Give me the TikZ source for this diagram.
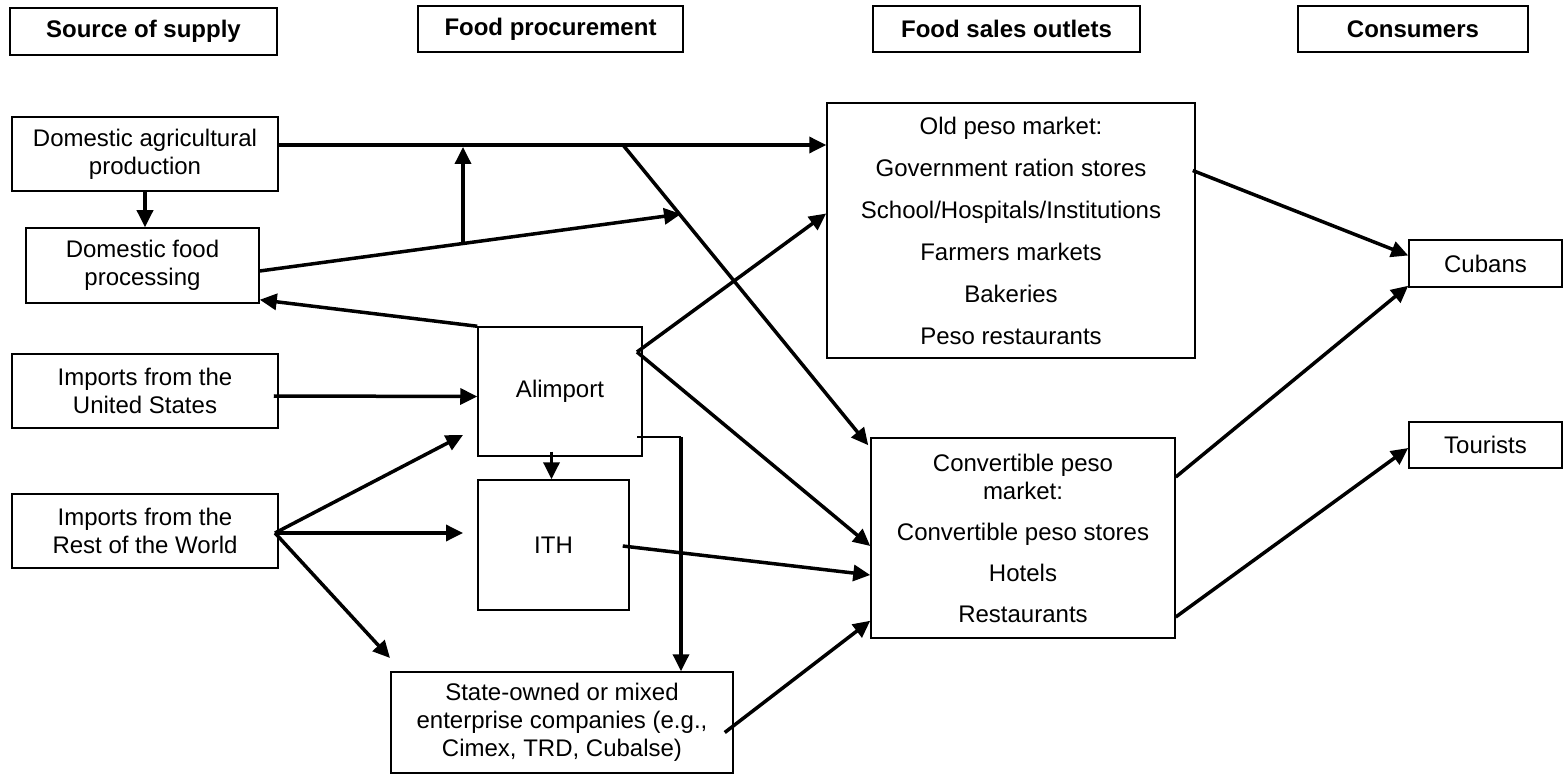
\documentclass[tikz,border=0pt]{standalone}
\usepackage{fontspec}
\setmainfont{Liberation Sans}
\usetikzlibrary{arrows.meta,calc,positioning}
\tikzset{head node/.style={rectangle,draw,line width=2pt,font=\fontsize{24}{28}\selectfont\bfseries,minimum height=46pt,inner sep=0pt},
         box node/.style={rectangle,draw,line width=1.5pt,align=center,inner sep=0pt},
         flow/.style={line width=3.5pt},
         thin flow/.style={line width=1.5pt},
}

\begin{document}
\begin{tikzpicture}[x=1pt,y=-1pt,
>={Triangle[length=17pt,width=16pt]},
font=\fontsize{24}{28}\selectfont]
\useasboundingbox (0,0) rectangle (1564,775);
% \draw[help lines,step=50] (0,0) grid (1564,775);
\node[head node,minimum width=267pt,minimum height=47pt] (hsrc) at (143.5,31.5) {Source of supply};
\node[head node,minimum width=265pt] (hproc) at (550.5,29) {Food procurement};
\node[head node,minimum width=267pt] (hsales) at (1006.5,29) {Food sales outlets};
\node[head node,minimum width=230pt] (hcons) at (1413,29) {Consumers};

\node[box node,minimum width=266pt,minimum height=74pt] (agri) at (145,154) {Domestic agricultural\\production};
\node[box node,minimum width=233pt,minimum height=75pt] (fproc) at (142.5,265.5) {Domestic food\\processing};
\node[box node,minimum width=266pt,minimum height=74pt] (usimp) at (145,391) {Imports from the\\United States};
\node[box node,minimum width=266pt,minimum height=74pt] (rowimp) at (145,531) {Imports from the\\Rest of the World};
\node[box node,minimum width=164pt,minimum height=129pt] (alim) at (560,391.5) {Alimport};
\node[box node,minimum width=151pt,minimum height=130pt] (ith) at (553.5,545) {ITH};
\node[box node,minimum width=342pt,minimum height=101pt] (state) at (562,722.5) {State-owned or mixed\\enterprise companies (e.g.,\\Cimex, TRD, Cubalse)};
\node[box node,minimum width=368pt,minimum height=255pt] (oldp) at (1011,230.5) {Old peso market:\\[14pt]Government ration stores\\[14pt]School/Hospitals/Institutions\\[14pt]Farmers markets\\[14pt]Bakeries\\[14pt]Peso restaurants};
\node[box node,minimum width=304pt,minimum height=200pt] (conv) at (1023,538) {Convertible peso\\market:\\[13pt]Convertible peso stores\\[13pt]Hotels\\[13pt]Restaurants};
\node[box node,minimum width=153pt,minimum height=47pt] (cubans) at (1485.5,263.5) {Cubans};
\node[box node,minimum width=153pt,minimum height=46pt] (tour) at (1485.5,445) {Tourists};

\coordinate (jtop) at (623,145);
\coordinate (jup) at (463,147);
\coordinate (jlow) at (463,243);
\coordinate (fend) at (681,214);
\coordinate (avert) at (637,352);
\coordinate (acorn) at (681,437);
\coordinate (rfork) at (275,533);
\coordinate (rtop) at (463,435);
\coordinate (rmid) at (463,533);
\coordinate (rlow) at (390,658);

\draw[flow,->] (agri.east |- jtop) -- (oldp.west |- jtop);
\draw[flow,->] (agri.south) -- (agri.south |- fproc.north);
\draw[flow,->] ($(fproc.east)+(0,5.5)$) -- (fend);
\draw[flow,->] (jlow) -- (jup);
\draw[flow,->] (jtop) -- ($(conv.north west)+(-2,8)$);
\draw[flow,->] (alim.north west) -- ($(fproc.south east)+(0,-4)$);
\draw[flow,->] ($(usimp.east)+(-5,5)$) -- ($(alim.west)+(0,5)$);
\draw[flow,->] (avert) -- ($(oldp.west)+(0,-17)$);
\draw[flow,->] (avert) -- ($(conv.west)+(0,8)$);
\draw[flow,->] ($(ith.north |- alim.south)+(-2,-5)$) -- ($(ith.north)+(-2,0)$);
\draw[thin flow] (avert |- acorn) -- (acorn);
\draw[flow,->] (acorn) -- (acorn |- state.north);
\draw[flow,->] (rfork) -- (rtop);
\draw[flow,->] (rfork) -- (rmid);
\draw[flow,->] (rfork) -- (rlow);
\draw[flow,->] ($(ith.east)+(-7,1)$) -- ($(conv.west)+(0,37)$);
\draw[flow,->] ($(state.east)+(-9,10)$) -- ($(conv.south west)+(0,-18)$);
\draw[flow,->] ($(oldp.east)+(-3,-60)$) -- ($(cubans.west)+(0,-8)$);
\draw[flow,->] ($(conv.east)+(0,-61)$) -- ($(cubans.south west)+(0,-2)$);
\draw[flow,->] ($(conv.east)+(0,79)$) -- ($(tour.west)+(0,3)$);
\end{tikzpicture}
\end{document}
